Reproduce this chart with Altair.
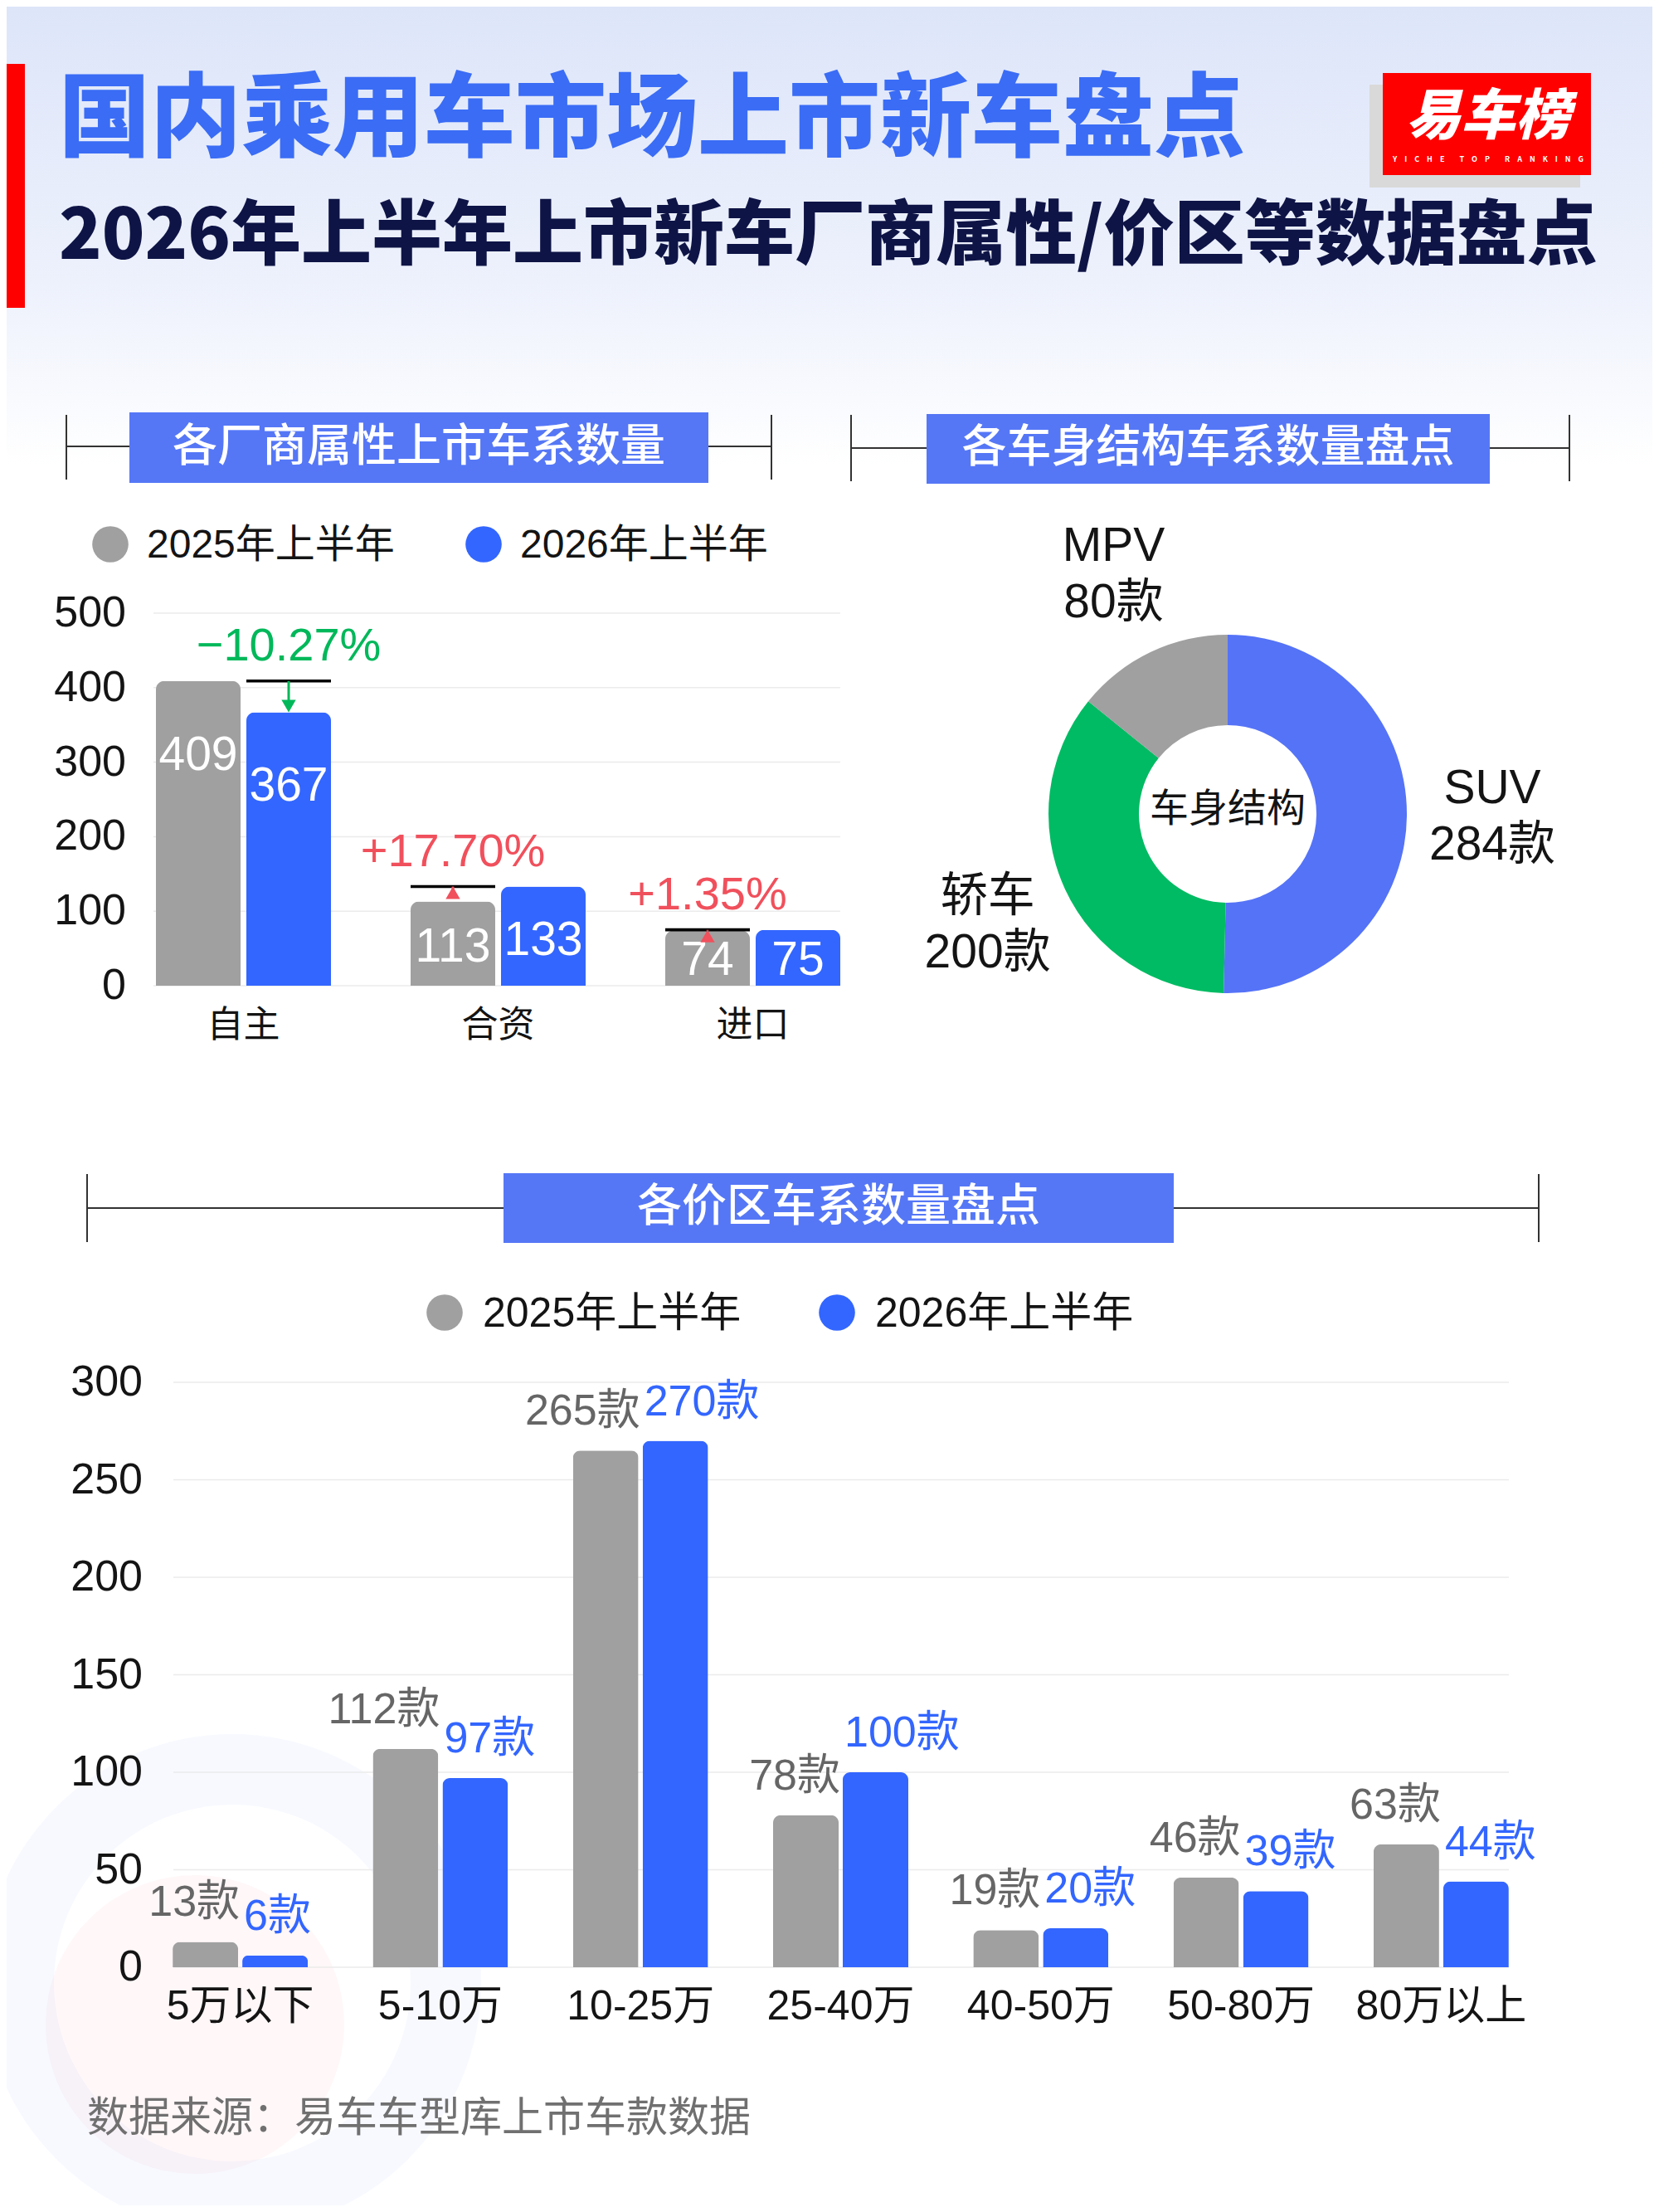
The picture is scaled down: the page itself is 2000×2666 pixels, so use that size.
import altair as alt
import pandas as pd

# ---------------- data ----------------
series = ["2025年上半年", "2026年上半年"]

makers = ["自主", "合资", "进口"]
makers_2025 = [409, 113, 74]
makers_2026 = [367, 133, 75]
change_labels = ["−10.27%", "+17.70%", "+1.35%"]
ticks1 = [0, 100, 200, 300, 400, 500]

body_types = ["SUV", "轿车", "MPV"]
body_counts = [284, 200, 80]
center_label = "车身结构"

prices = ["5万以下", "5-10万", "10-25万", "25-40万", "40-50万", "50-80万", "80万以上"]
price_2025 = [13, 112, 265, 78, 19, 46, 63]
price_2026 = [6, 97, 270, 100, 20, 39, 44]
ticks3 = [0, 50, 100, 150, 200, 250, 300]

title1 = "国内乘用车市场上市新车盘点"
title2 = "2026年上半年上市新车厂商属性/价区等数据盘点"
section_titles = ["各厂商属性上市车系数量", "各车身结构车系数量盘点", "各价区车系数量盘点"]
logo_text = "易车榜"
logo_words = ["YICHE", "TOP", "RANKING"]
source_note = "数据来源：易车车型库上市车款数据"

# ---------------- style ----------------
FONT = "Noto Sans CJK SC"
MIX = "Liberation Sans, Noto Sans CJK SC"
GRAY = "#a0a0a0"
BLUE = "#3366ff"
SUVBLUE = "#5573f7"
GREEN = "#00bb63"
RED_TXT = "#f0505c"
GREEN_TXT = "#00b85a"
BANNER = "#5577f6"
TXT = "#141414"

W, H = 1984, 2650


def P(v):
    return v - 8


ONE = alt.Data(values=[{"k": 1}])


def vrect(x0, x1, y0, y1, **kw):
    return alt.Chart(ONE).mark_rect(**kw).encode(
        x=alt.value(P(x0)), x2=alt.value(P(x1)), y=alt.value(P(y0)), y2=alt.value(P(y1)))


def vrule(x0, x1, y0, y1, **kw):
    return alt.Chart(ONE).mark_rule(**kw).encode(
        x=alt.value(P(x0)), x2=alt.value(P(x1)), y=alt.value(P(y0)), y2=alt.value(P(y1)))


def vtext(txt, x, y, **kw):
    return alt.Chart(alt.Data(values=[{"t": txt}])).mark_text(**kw).encode(
        x=alt.value(P(x)), y=alt.value(P(y)), text="t:N")


def long_df(cats, a, b):
    n = len(cats)
    return pd.DataFrame({
        "cat": list(cats) * 2,
        "i": list(range(n)) * 2,
        "s": [0] * n + [1] * n,
        "series": [series[0]] * n + [series[1]] * n,
        "value": list(a) + list(b),
    })


layers = []

# ---------------- background ----------------
layers.append(alt.Chart(ONE).mark_rect(
    fill=alt.LinearGradient(
        gradient="linear",
        stops=[alt.GradientStop(color="#dde5f9", offset=0),
               alt.GradientStop(color="#edf1fc", offset=0.6),
               alt.GradientStop(color="#ffffff", offset=1)],
        x1=0, x2=0, y1=0, y2=1)
).encode(x=alt.value(0), x2=alt.value(W), y=alt.value(0), y2=alt.value(P(560))))

# faint decoration bottom-left
layers.append(alt.Chart(ONE).mark_arc(innerRadius=215, outerRadius=300, theta=0, theta2=6.2832,
                                      color="#4a78ff", opacity=0.045).encode(
    x=alt.value(P(280)), y=alt.value(P(2390))))
layers.append(alt.Chart(ONE).mark_arc(innerRadius=0, outerRadius=180, theta=0, theta2=6.2832,
                                      color="#ff6b7a", opacity=0.055).encode(
    x=alt.value(P(235)), y=alt.value(P(2440))))

# ---------------- header ----------------
layers.append(vrect(0, 30, 77, 371, color="#ff0000"))
layers.append(vtext(title1, 71, 147, align="left", baseline="middle", fontSize=110,
                    fontWeight=900, color="#3a6cf5", font=FONT))
layers.append(vtext(title2, 71, 286, align="left", baseline="middle", fontSize=85,
                    fontWeight=900, color="#0e1445", font=FONT))
# logo
layers.append(vrect(1651, 1905, 102, 226, color="#d9d9d9"))
layers.append(vrect(1667, 1918, 88, 211, color="#fe0000"))
layers.append(vtext(logo_text, 1794, 142, align="center", baseline="middle", fontSize=66,
                    fontWeight=900, fontStyle="italic", color="white", font=FONT))
logo_sub = "\u2003\u2003".join("\u2003".join(w) for w in logo_words)
layers.append(vtext(logo_sub, 1794, 192, align="center", baseline="middle", fontSize=9,
                    fontWeight="bold", color="white", font=FONT))


# ---------------- section banners ----------------
def banner(txt, lx0, lx1, ly, bx0, bx1, by0, by1, ty0, ty1):
    return [
        vrule(lx0, lx1, ly, ly, color="#333333", strokeWidth=2),
        vrule(lx0, lx0, ty0, ty1, color="#333333", strokeWidth=2),
        vrule(lx1, lx1, ty0, ty1, color="#333333", strokeWidth=2),
        vrect(bx0, bx1, by0, by1, color=BANNER),
        vtext(txt, (bx0 + bx1) / 2, (by0 + by1) / 2, align="center", baseline="middle",
              fontSize=54, fontWeight=500, color="white", font=FONT),
    ]


layers += banner(section_titles[0], 80, 930, 538, 156, 854, 497, 582, 500, 578)
layers += banner(section_titles[1], 1026, 1892, 540, 1117, 1796, 499, 583, 500, 580)
layers += banner(section_titles[2], 105, 1855, 1456, 607, 1415, 1414, 1498, 1415, 1497)

COL = alt.Scale(domain=series, range=[GRAY, BLUE])

# ---------------- chart 1: makers ----------------
# group centres at 293.5 / 600.5 / 907.5 px, bars 102 px wide, 109 px apart
XQ1 = alt.Scale(domain=[0, len(makers) - 1], range=[P(293.5), P(907.5)], nice=False, zero=False,
                padding=0)
OFF1 = 54.5 / 307.0
BW1 = 102
Y1 = alt.Scale(domain=[0, 500], range=[P(1188), P(739)], nice=False, zero=False, padding=0)

df1 = long_df(makers, makers_2025, makers_2026)
dft1 = pd.DataFrame({"t": ticks1})

layers.append(alt.Chart(dft1).mark_rule(color="#ebebeb", strokeWidth=1.5).encode(
    x=alt.value(P(185)), x2=alt.value(P(1013)), y=alt.Y("t:Q", scale=Y1, axis=None)))
layers.append(alt.Chart(dft1).mark_text(align="right", baseline="middle", fontSize=52,
                                        color=TXT, font=MIX).encode(
    x=alt.value(P(152)), y=alt.Y("t:Q", scale=Y1, axis=None), text="t:Q"))

base1 = alt.Chart(df1).transform_calculate(
    xq=f"datum.i + (datum.s - 0.5) * {2 * OFF1}",
    pos="datum.value > 150 ? datum.value - 100 : datum.value * 0.45",
)
xq1 = alt.X("xq:Q", scale=XQ1, axis=None)
layers.append(base1.mark_bar(width=BW1, cornerRadiusTopLeft=10, cornerRadiusTopRight=10).encode(
    x=xq1, y=alt.Y("value:Q", scale=Y1, axis=None),
    color=alt.Color("series:N", scale=COL, legend=None)))
layers.append(base1.mark_text(baseline="middle", fontSize=57, color="white", font=MIX).encode(
    x=xq1, y=alt.Y("pos:Q", scale=Y1, axis=None), text="value:Q"))

layers.append(alt.Chart(pd.DataFrame({"cat": makers, "i": range(len(makers))})).mark_text(
    baseline="middle", fontSize=44, color=TXT, font=FONT).encode(
    x=alt.X("i:Q", scale=XQ1, axis=None), y=alt.value(P(1237)), text="cat:N"))

# change markers (drawn over the lower bar of each group)
dfc = pd.DataFrame({"cat": makers, "i": range(len(makers)), "v25": makers_2025,
                    "v26": makers_2026, "label": change_labels})
DIRC = alt.Scale(domain=["up", "down"], range=[RED_TXT, GREEN_TXT])
SHP = alt.Scale(domain=["up", "down"], range=["triangle-up", "triangle-down"])
chg = alt.Chart(dfc).transform_calculate(
    maxv="max(datum.v25, datum.v26)",
    dir="datum.v26 > datum.v25 ? 'up' : 'down'",
    lowS="datum.v26 < datum.v25 ? 1 : 0",
).transform_calculate(
    xq=f"datum.i + (datum.lowS - 0.5) * {2 * OFF1}",
    ltop="datum.maxv + 2",
    lbot="datum.maxv - 2",
    shaft="datum.dir == 'up' ? max(datum.v25, datum.v26 - 15) : min(datum.v25, datum.v26 + 15)",
    head="datum.dir == 'up' ? datum.v26 - 8.4 : datum.v26 + 8.4",
)
layers.append(chg.mark_bar(width=BW1, color="black").encode(
    x=xq1, y=alt.Y("ltop:Q", scale=Y1, axis=None), y2="lbot:Q"))
layers.append(chg.mark_rule(strokeWidth=3).encode(
    x=xq1, y=alt.Y("maxv:Q", scale=Y1, axis=None), y2="shaft:Q",
    color=alt.Color("dir:N", scale=DIRC, legend=None)))
layers.append(chg.mark_point(filled=True, size=300, opacity=1).encode(
    x=xq1, y=alt.Y("head:Q", scale=Y1, axis=None),
    shape=alt.Shape("dir:N", scale=SHP, legend=None),
    color=alt.Color("dir:N", scale=DIRC, legend=None)))
layers.append(chg.mark_text(baseline="middle", dy=-42, fontSize=56, font=MIX).encode(
    x=xq1, y=alt.Y("maxv:Q", scale=Y1, axis=None), text="label:N",
    color=alt.Color("dir:N", scale=DIRC, legend=None)))

# legend 1
dfs = pd.DataFrame({"series": series})
LX1 = alt.Scale(type="point", domain=series, range=[P(133), P(583)], padding=0)
layers.append(alt.Chart(dfs).mark_circle(size=1900, opacity=1).encode(
    x=alt.X("series:N", scale=LX1, axis=None), y=alt.value(P(656)),
    color=alt.Color("series:N", scale=COL, legend=None)))
layers.append(alt.Chart(dfs).mark_text(align="left", baseline="middle", dx=44, fontSize=48,
                                       color=TXT, font=MIX).encode(
    x=alt.X("series:N", scale=LX1, axis=None), y=alt.value(P(658)), text="series:N"))

# ---------------- chart 2: donut ----------------
dfb = pd.DataFrame({"type": body_types, "count": body_counts,
                    "idx": list(range(len(body_types)))})
CX, CY = P(1480), P(981)
layers.append(alt.Chart(dfb).mark_arc(innerRadius=107, outerRadius=216).encode(
    theta=alt.Theta("count:Q", stack=True),
    order=alt.Order("idx:Q"),
    color=alt.Color("type:N", scale=alt.Scale(domain=body_types, range=[SUVBLUE, GREEN, GRAY]),
                    legend=None),
    x=alt.value(CX), y=alt.value(CY)))
donut_lab = alt.Chart(dfb).transform_calculate(cnt="datum.count + '款'")
for field, shift in (("type", -34), ("cnt", 34)):
    layers.append(donut_lab.mark_text(radius=319, baseline="middle", align="center", dy=shift,
                                      fontSize=57, color=TXT, font=MIX).encode(
        theta=alt.Theta("count:Q", stack=True),
        order=alt.Order("idx:Q"),
        detail="type:N",
        text=f"{field}:N",
        x=alt.value(CX), y=alt.value(CY)))
layers.append(vtext(center_label, 1480, 976, align="center", baseline="middle", fontSize=47,
                    color=TXT, font=FONT))

# ---------------- chart 3: price ranges ----------------
# group centres from 289.6 px, step 241.3 px; bars 79 px wide, 84 px apart
XQ3 = alt.Scale(domain=[0, len(prices) - 1], range=[P(289.6), P(289.6 + 241.3 * (len(prices) - 1))],
                nice=False, zero=False, padding=0)
OFF3 = 42.0 / 241.3
BW3 = 79
Y3 = alt.Scale(domain=[0, 300], range=[P(2371), P(1666)], nice=False, zero=False, padding=0)

df3 = long_df(prices, price_2025, price_2026)
dft3 = pd.DataFrame({"t": ticks3})

layers.append(alt.Chart(dft3).mark_rule(color="#ebebeb", strokeWidth=1.5).encode(
    x=alt.value(P(209)), x2=alt.value(P(1819)), y=alt.Y("t:Q", scale=Y3, axis=None)))
layers.append(alt.Chart(dft3).mark_text(align="right", baseline="middle", fontSize=52,
                                        color=TXT, font=MIX).encode(
    x=alt.value(P(172)), y=alt.Y("t:Q", scale=Y3, axis=None), text="t:Q"))

base3 = alt.Chart(df3).transform_calculate(
    xq=f"datum.i + (datum.s - 0.5) * {2 * OFF3}",
    lab="datum.value + '款'",
)
xq3 = alt.X("xq:Q", scale=XQ3, axis=None)
layers.append(base3.mark_bar(width=BW3, cornerRadiusTopLeft=9, cornerRadiusTopRight=9).encode(
    x=xq3, y=alt.Y("value:Q", scale=Y3, axis=None),
    color=alt.Color("series:N", scale=COL, legend=None)))
layers.append(base3.transform_filter(alt.datum.s == 0).mark_text(
    align="right", baseline="middle", dx=BW3 / 2 + 2, dy=-47, fontSize=52, color="#666666",
    font=MIX).encode(
    x=xq3, y=alt.Y("value:Q", scale=Y3, axis=None), text="lab:N"))
layers.append(base3.transform_filter(alt.datum.s == 1).mark_text(
    align="left", baseline="middle", dx=-BW3 / 2 + 2, dy=-47, fontSize=52, color=BLUE,
    font=MIX).encode(
    x=xq3, y=alt.Y("value:Q", scale=Y3, axis=None), text="lab:N"))

layers.append(alt.Chart(pd.DataFrame({"cat": prices, "i": range(len(prices))})).mark_text(
    baseline="middle", fontSize=50, color=TXT, font=MIX).encode(
    x=alt.X("i:Q", scale=XQ3, axis=None), y=alt.value(P(2419)), text="cat:N"))

# legend 3
LX3 = alt.Scale(type="point", domain=series, range=[P(536), P(1009)], padding=0)
layers.append(alt.Chart(dfs).mark_circle(size=1900, opacity=1).encode(
    x=alt.X("series:N", scale=LX3, axis=None), y=alt.value(P(1582)),
    color=alt.Color("series:N", scale=COL, legend=None)))
layers.append(alt.Chart(dfs).mark_text(align="left", baseline="middle", dx=46, fontSize=50,
                                       color=TXT, font=MIX).encode(
    x=alt.X("series:N", scale=LX3, axis=None), y=alt.value(P(1584)), text="series:N"))

# footer
layers.append(vtext(source_note, 105, 2554, align="left", baseline="middle", fontSize=50,
                    color="#707070", font=FONT))

chart = alt.layer(*layers).resolve_scale(
    x="independent", y="independent",
    color="independent", shape="independent",
).properties(
    width=W, height=H, autosize=alt.AutoSizeParams(type="none"), padding=0,
    background="white",
).configure(font=FONT).configure_view(stroke=None)

chart.save("out.html", embed_options={"renderer": "svg", "actions": False})
